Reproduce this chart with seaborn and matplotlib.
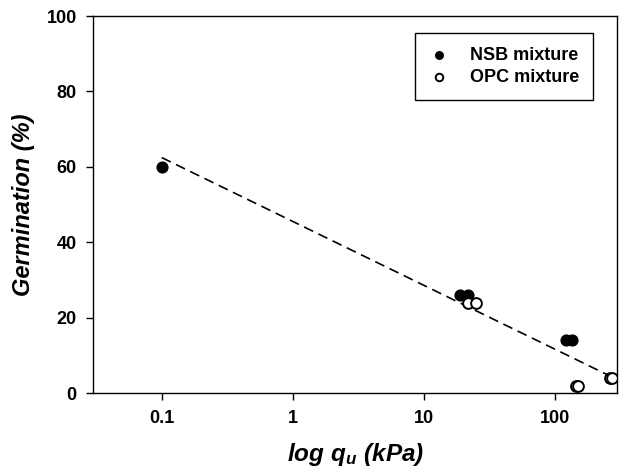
import numpy as np
import pandas as pd
import seaborn as sns
import matplotlib
matplotlib.use("Agg")
import matplotlib.pyplot as plt

sns.set_style("ticks")
plt.rcParams["font.family"] = ["Liberation Sans", "DejaVu Sans"]
plt.rcParams["font.weight"] = "bold"
plt.rcParams["mathtext.fontset"] = "custom"
plt.rcParams["mathtext.rm"] = "Liberation Sans:italic:bold"
plt.rcParams["mathtext.it"] = "Liberation Sans:italic:bold"
plt.rcParams["mathtext.bf"] = "Liberation Sans:italic:bold"
plt.rcParams["text.color"] = "k"
plt.rcParams["axes.labelcolor"] = "k"
plt.rcParams["axes.edgecolor"] = "k"
plt.rcParams["xtick.color"] = "k"
plt.rcParams["ytick.color"] = "k"
plt.rcParams["axes.linewidth"] = 1.0
plt.rcParams["xtick.direction"] = "out"
plt.rcParams["ytick.direction"] = "out"
plt.rcParams["xtick.labelsize"] = 13
plt.rcParams["ytick.labelsize"] = 13

# data
nsb_qu = [0.1, 19, 22, 123, 135]
nsb_germ = [60, 26, 26, 14, 14]
opc_qu = [22, 25, 147, 152, 263, 277]
opc_germ = [24, 24, 2, 2, 4, 4]

nsb = pd.DataFrame({"qu": nsb_qu, "germ": nsb_germ})
opc = pd.DataFrame({"qu": opc_qu, "germ": opc_germ})
both = pd.concat([nsb, opc], ignore_index=True)

fig, ax = plt.subplots(figsize=(6.22, 4.72), dpi=100, facecolor="w")
fig.subplots_adjust(left=0.150, right=0.992, bottom=0.167, top=0.966)

# regression line y ~ log(x)
sns.regplot(data=both, x="qu", y="germ", logx=True, scatter=False, ci=None,
            color="k", line_kws=dict(lw=1.2, ls=(0, (6, 3.5))), ax=ax)

sns.scatterplot(data=nsb, x="qu", y="germ", color="k", edgecolor="k", s=60,
                linewidth=1, label="NSB mixture", ax=ax, zorder=3)
sns.scatterplot(data=opc, x="qu", y="germ", color="w", edgecolor="k", s=60,
                linewidth=1.4, label="OPC mixture", ax=ax, zorder=3)

ax.set_xscale("log")
ax.set_xlim(0.03, 300)
ax.set_ylim(0, 100)
ax.set_yticks([0, 20, 40, 60, 80, 100])
ax.set_xticks([0.1, 1, 10, 100])
ax.set_xticklabels(["0.1", "1", "10", "100"])
ax.xaxis.set_minor_locator(matplotlib.ticker.NullLocator())
ax.tick_params(axis="both", length=5, width=1, pad=7)
for lab in ax.get_xticklabels() + ax.get_yticklabels():
    lab.set_fontweight("bold")

ax.set_xlabel(r"$log\ q_u\ (kPa)$", fontsize=17.5, labelpad=10)
ax.set_ylabel("Germination (%)", fontsize=17, fontweight="bold",
              fontstyle="italic", labelpad=8)

for s in ["top", "right"]:
    ax.spines[s].set_visible(True)

leg = ax.legend(loc="upper right", bbox_to_anchor=(0.972, 0.98), frameon=True,
                fancybox=False, edgecolor="k", framealpha=1, markerscale=0.7,
                prop=dict(size=13, weight="bold"), handletextpad=1.2,
                borderpad=0.8, labelspacing=0.25, handlelength=1.0)
leg.get_frame().set_linewidth(1.0)

fig.savefig("out.png", dpi=100)
